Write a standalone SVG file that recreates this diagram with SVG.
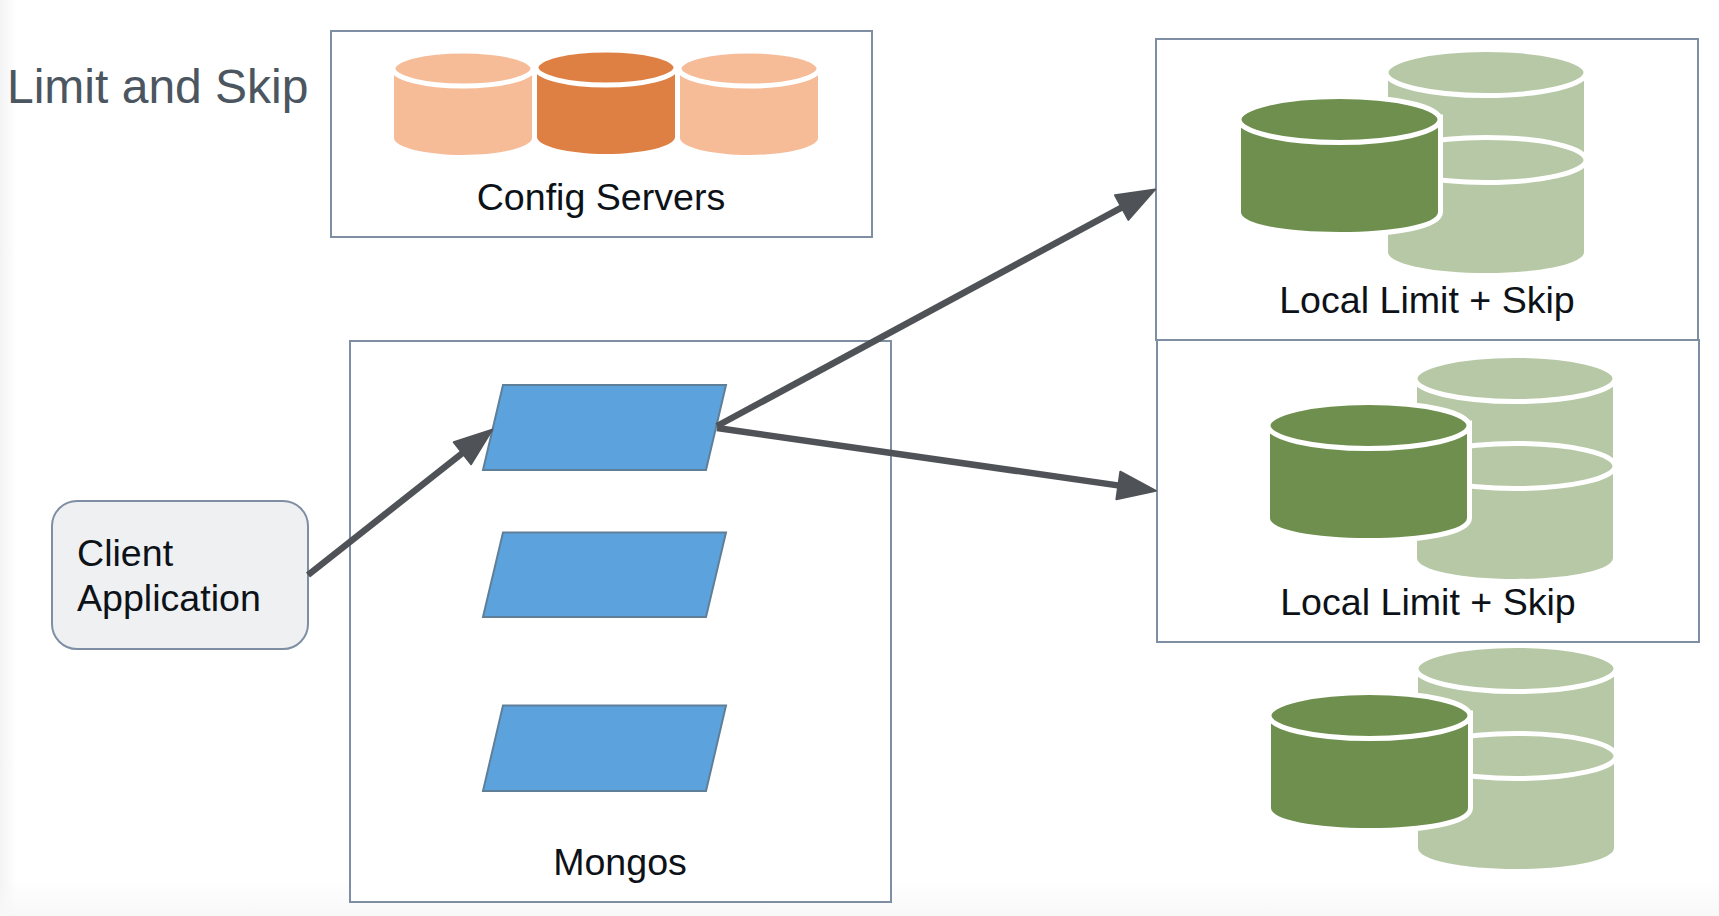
<svg xmlns="http://www.w3.org/2000/svg" width="1719" height="916" viewBox="0 0 1719 916">
<style>
text{font-family:"Liberation Sans",Arial,sans-serif;fill:#0d1218}
.t{font-size:37.6px}
.box{fill:#fff;stroke:#7f8fa3;stroke-width:2}
.m{fill:#5ca3de;stroke:#5f7f99;stroke-width:2}
.e{stroke:#fff;stroke-width:5}
.l{fill:#b6c8a5}.d{fill:#6f8f4f}.o{fill:#f6bc98}.r{fill:#de8044}
.c{stroke:#4f5256;stroke-width:6.500;fill:none}
</style>
<defs>
<linearGradient id="gl"><stop offset="0" stop-color="#f3f3f3"/><stop offset="1" stop-color="#f3f3f3" stop-opacity="0"/></linearGradient>
<linearGradient id="gb" x2="0" y2="1"><stop offset="0" stop-color="#f8f8f8" stop-opacity="0"/><stop offset="1" stop-color="#f8f8f8"/></linearGradient>
<marker id="a" markerUnits="userSpaceOnUse" markerWidth="46" markerHeight="36" refX="26" refY="18" orient="auto"><path d="M2 4L40 18L2 32z" fill="#4f5256" stroke="#4f5256" stroke-width="2" stroke-linejoin="round"/></marker>
<g id="cfg"><path d="M0 15.500V85C0 94 31 102 69 102S138 94 138 85V15.500z"/><ellipse class="e" cx="69" cy="15.500" rx="70" ry="17.500"/></g>
<g id="db">
<path d="M0 20.500V200C0 212 44 221 98 221S196 212 196 200V20.500z" class="l"/>
<ellipse class="e l" cx="98" cy="20.500" rx="100" ry="23"/>
<ellipse class="e l" cx="98" cy="108" rx="100" ry="22.500"/>
<path d="M-147 67.500V160C-147 172 -103 180 -48.500 180S50 172 50 160V67.500z" class="d" stroke="#fff" stroke-width="10" paint-order="stroke"/>
<ellipse class="e d" cx="-48.500" cy="67.500" rx="100.500" ry="23"/>
</g>
</defs>
<rect width="1719" height="916" fill="#fff"/>
<rect width="16" height="916" fill="url(#gl)"/>
<rect y="880" width="1719" height="36" fill="url(#gb)"/>
<text id="title" x="7" y="103" font-size="48" style="fill:#4b5661">Limit and Skip</text>
<g id="config"><rect class="box" x="331" y="31" width="541" height="206"/><use href="#cfg" x="394" y="53" class="o"/><use href="#cfg" x="537" y="52" class="r"/><use href="#cfg" x="680" y="53" class="o"/><text class="t" x="601" y="210" text-anchor="middle">Config Servers</text></g>
<g id="shard1"><rect class="box" x="1156" y="39" width="542" height="301"/><use href="#db" x="1388" y="52"/><text class="t" x="1427" y="313" text-anchor="middle">Local Limit + Skip</text></g>
<g id="shard2"><rect class="box" x="1157" y="340" width="542" height="302"/><use href="#db" x="1417" y="358"/><text class="t" x="1428" y="615" text-anchor="middle">Local Limit + Skip</text></g>
<g id="shard3"><use href="#db" x="1418" y="648"/></g>
<g id="mongos"><rect class="box" x="350" y="341" width="541" height="561"/><path class="m" d="M503 385H726L706 470H483z"/><path class="m" d="M503 532.500H726L706 617H483z"/><path class="m" d="M503 705.500H726L706 791H483z"/><text class="t" x="620" y="875" text-anchor="middle">Mongos</text></g>
<g id="client"><rect x="52" y="501" width="256" height="148" rx="25" fill="#eff0f2" stroke="#7f8fa3" stroke-width="2"/><text class="t" x="77" y="566" >Client</text><text class="t" x="77" y="611">Application</text></g>
<g id="connectors"><path class="c" marker-end="url(#a)" d="M308 575L481.200 438.300"/><path class="c" marker-end="url(#a)" d="M717 426L1142.800 196.100"/><path class="c" marker-end="url(#a)" d="M717 428L1142.100 488.900"/></g>
</svg>
